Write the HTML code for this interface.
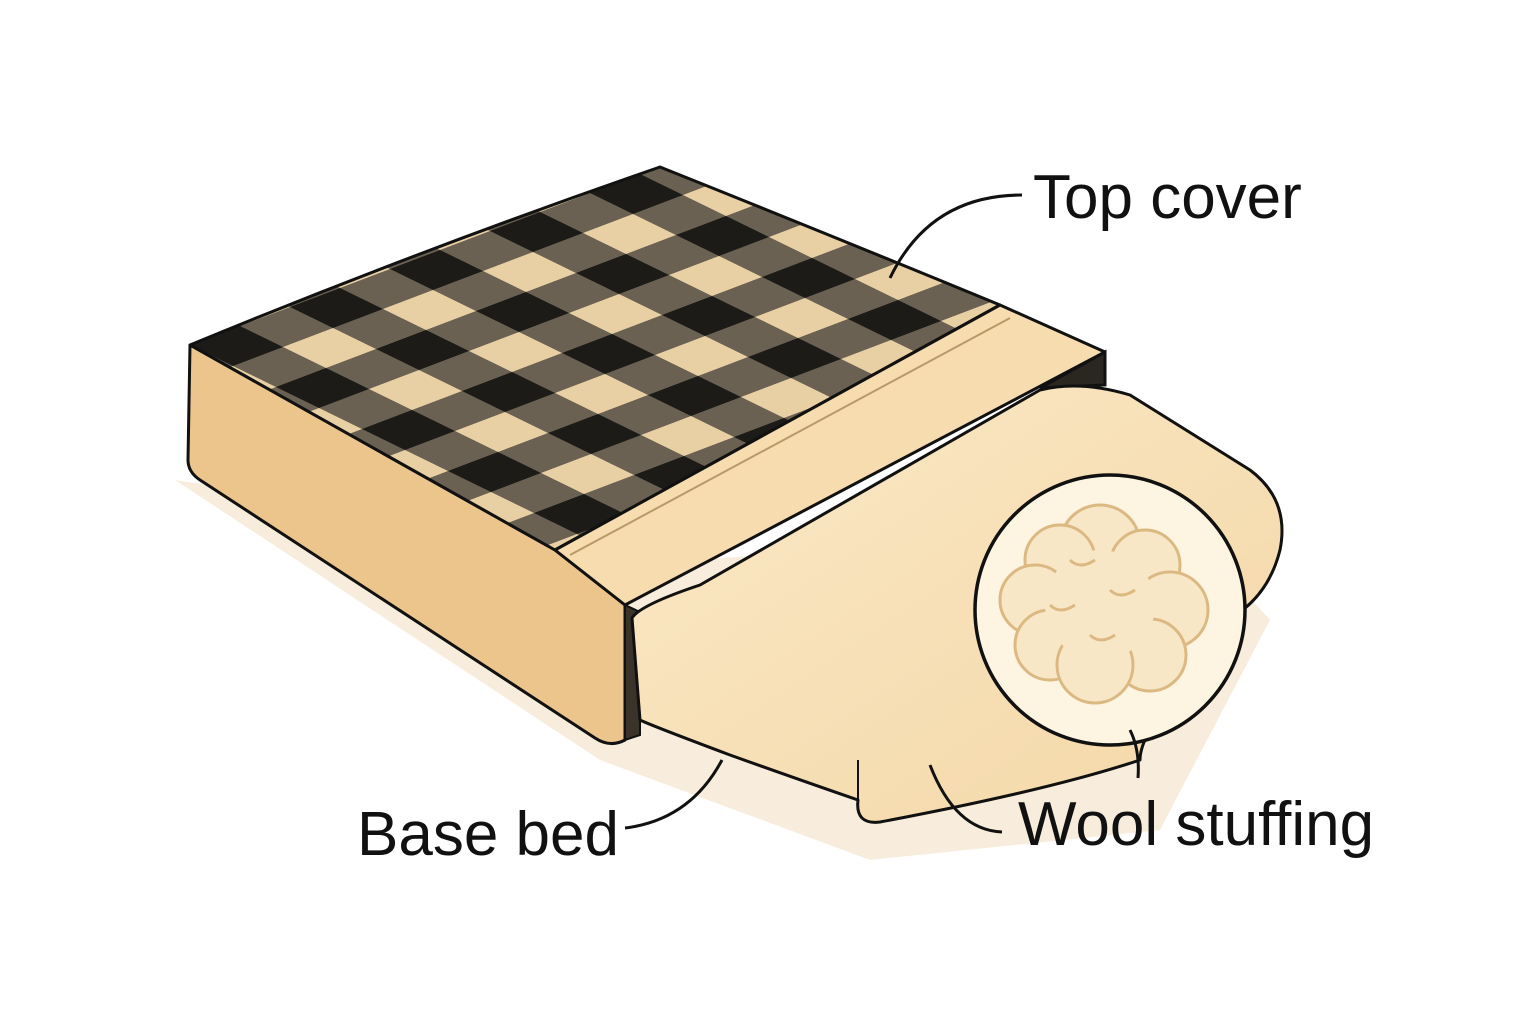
<!DOCTYPE html>
<html><head><meta charset="utf-8"><style>
html,body{margin:0;padding:0;background:#fff;}
svg{display:block}
text{font-family:"Liberation Sans",sans-serif;fill:#111;}
</style></head><body>
<svg width="1536" height="1024" viewBox="0 0 1536 1024">
<defs>
<pattern id="chk" patternUnits="userSpaceOnUse" width="2" height="2" patternTransform="matrix(43 21 50 -19 190 345)">
<rect x="0" y="0" width="2" height="2" fill="#6a6152"/>
<rect x="0" y="0" width="1" height="1" fill="#1c1b18"/>
<rect x="1" y="1" width="1" height="1" fill="#e8cfa4"/>
</pattern>
<linearGradient id="pil" x1="0" y1="0" x2="1" y2="1">
<stop offset="0" stop-color="#fbe9c8"/><stop offset="1" stop-color="#f3d7a6"/>
</linearGradient>
</defs>
<path d="M175 480 L600 760 L870 860 L1160 830 L1270 620 L1180 520 L700 560 Z" fill="#f8eddd"/>
<path d="M190 345 L555 550 L625 605 L625 740 Q610 748 595 738 L200 480 Q188 472 188 460 Z" fill="#ecc58d" stroke="#111" stroke-width="3" stroke-linejoin="round"/>
<path d="M190 345 Q420 250 660 167 Q830 235 1000 305 L555 550 Z" fill="url(#chk)" stroke="#111" stroke-width="3" stroke-linejoin="round"/>
<path d="M1000 305 L1105 352 L625 605 L555 550 Z" fill="#f6dcae" stroke="#111" stroke-width="3" stroke-linejoin="round"/>
<path d="M1010 318 L570 555" stroke="#b89a6a" stroke-width="2"/>
<path d="M1105 352 L1105 385 L1040 388 Z" fill="#2a2620" stroke="#111" stroke-width="3"/>
<path d="M625 605 L640 612 L640 735 L625 740 Z" fill="#3a332a" stroke="#111" stroke-width="2"/>
<path d="M632 618 Q640 605 700 585 L1040 390 Q1080 380 1130 395 L1250 470 Q1290 500 1280 550 Q1270 590 1240 612 L1180 690 Q1140 735 1140 760 Q1050 790 880 822 Q855 825 858 800 Q800 780 730 755 Q650 725 640 720 Z" fill="url(#pil)" stroke="#111" stroke-width="3" stroke-linejoin="round"/>
<path d="M858 800 L858 760" stroke="#111" stroke-width="2"/>
<circle cx="1110" cy="610" r="135" fill="#fdf4e2" stroke="#111" stroke-width="3.5"/>
<g fill="#f8e7c7" stroke="#dcb982" stroke-width="3">
<circle cx="1100" cy="545" r="40"/><circle cx="1060" cy="560" r="35"/><circle cx="1145" cy="565" r="35"/>
<circle cx="1035" cy="600" r="35"/><circle cx="1170" cy="610" r="38"/><circle cx="1050" cy="645" r="35"/>
<circle cx="1150" cy="655" r="36"/><circle cx="1095" cy="665" r="38"/>
<circle cx="1100" cy="605" r="55" stroke="none"/>
</g>
<g fill="none" stroke="#dcb982" stroke-width="3">
<path d="M1070 560 q10 10 25 0"/><path d="M1110 590 q10 10 25 0"/><path d="M1050 605 q10 10 25 0"/><path d="M1090 635 q10 10 25 0"/>
</g>
<g fill="none" stroke="#111" stroke-width="3">
<path d="M1022 195 Q930 195 890 278"/>
<path d="M625 828 Q690 820 722 760"/>
<path d="M1002 832 Q955 830 930 765"/>
<path d="M1130 730 Q1140 750 1138 778"/>
</g>
<text x="1033" y="218" font-size="62">Top cover</text>
<text x="357" y="855" font-size="62">Base bed</text>
<text x="1018" y="845" font-size="62">Wool stuffing</text>
</svg>
</body></html>
